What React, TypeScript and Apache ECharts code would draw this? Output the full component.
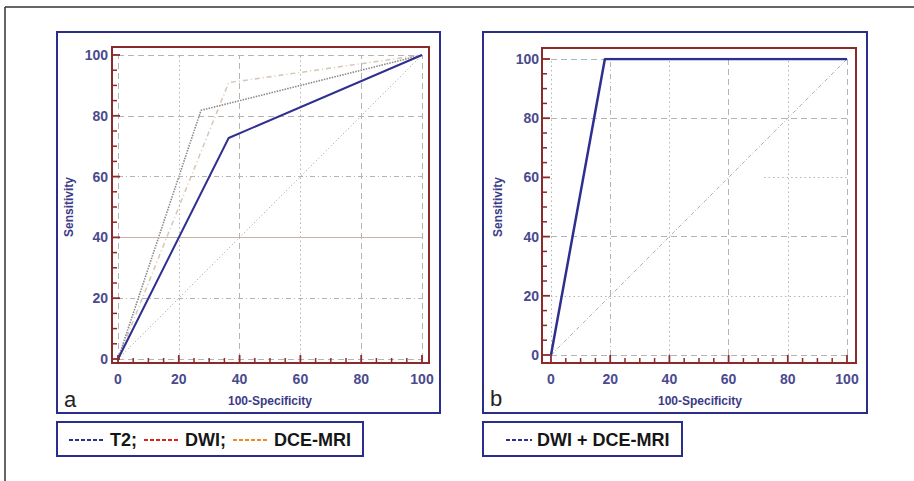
import React, { useEffect, useRef } from "react";
import * as echarts from "echarts";

// ---- data ----
const tickValues = [0, 20, 40, 60, 80, 100];
const minorValues = [5, 10, 15, 25, 30, 35, 45, 50, 55, 65, 70, 75, 85, 90, 95];
const diagX = [0, 100];
const diagY = [0, 100];
const t2X = [0, 36.4, 100];
const t2Y = [0, 72.7, 100];
const dwiX = [0, 27.3, 100];
const dwiY = [0, 81.8, 100];
const dceX = [0, 36.4, 100];
const dceY = [0, 90.9, 100];
const comboX = [0, 18.2, 100];
const comboY = [0, 100, 100];
const legendA = ["T2;", "DWI;", "DCE-MRI"];
const legendB = ["DWI + DCE-MRI"];
const panelLetters = ["a", "b"];
const xName = "100-Specificity";
const yName = "Sensitivity";

const pairs = (xs: number[], ys: number[]) => xs.map((x, i) => [x, ys[i]]);

const NAVY = "#2e2f8f";
const FRAME = "#8b2a2a";
const GRID = "#b4b4b4";
const FONT = "'Liberation Sans', Arial, sans-serif";
const DASH = [6, 4];
const DOT = [1.5, 3];
const DASHDOT = [5, 3, 1, 3];

// axis offsets (frame distance from the 0..100 data area)
const OFFSETS = [
  { x: 4, y: 6 },
  { x: 8, y: 9 },
];

export default function App() {
  const ref = useRef<HTMLDivElement>(null);
  useEffect(() => {
    if (!ref.current) return;
    const chart = echarts.init(ref.current, null, { renderer: "svg" });

    const axisCommon = (gridIndex: number, offset: number, margin: number) => ({
      type: "value",
      gridIndex,
      min: tickValues[0],
      max: tickValues[tickValues.length - 1],
      interval: 20,
      offset,
      axisLine: { show: false, onZero: false },
      axisTick: { show: false },
      minorTick: { show: false },
      splitLine: { show: false },
      axisLabel: { color: "#4a4a8e", fontSize: 14, fontWeight: "bold", fontFamily: FONT, margin },
    });

    const gl = (type: any, color = GRID, width = 1) => ({ lineStyle: { type, color, width } });

    const gridLinesA = [
      { xAxis: tickValues[0], ...gl(DASH) },
      { xAxis: tickValues[1], ...gl(DOT) },
      { xAxis: tickValues[2], ...gl(DASH) },
      { xAxis: tickValues[3], ...gl(DOT) },
      { xAxis: tickValues[4], ...gl(DASH) },
      { xAxis: tickValues[5], ...gl(DASH) },
      { yAxis: tickValues[0], ...gl(DASH) },
      { yAxis: tickValues[1], ...gl(DASHDOT) },
      { yAxis: tickValues[2], ...gl("solid", "#c9b3a8", 1.2) },
      { yAxis: tickValues[3], ...gl(DASHDOT) },
      { yAxis: tickValues[4], ...gl(DASH) },
      { yAxis: tickValues[5], ...gl(DASH) },
    ];
    const gridLinesB = [
      { xAxis: tickValues[0], ...gl(DOT) },
      { xAxis: tickValues[1], ...gl(DASHDOT) },
      { xAxis: tickValues[2], ...gl(DOT) },
      { xAxis: tickValues[3], ...gl(DASH) },
      { xAxis: tickValues[4], ...gl(DOT) },
      { xAxis: tickValues[5], ...gl(DASH) },
      { yAxis: tickValues[0], ...gl(DASH) },
      { yAxis: tickValues[1], ...gl(DOT) },
      { yAxis: tickValues[2], ...gl(DASH) },
      [{ coord: [72, tickValues[3]], ...gl(DOT) }, { coord: [100, tickValues[3]] }],
      { yAxis: tickValues[4], ...gl(DASH) },
      { yAxis: tickValues[5], ...gl(DASH) },
    ];

    const markLine = (data: any[]) => ({
      silent: true,
      symbol: ["none", "none"],
      label: { show: false },
      emphasis: { disabled: true },
      data,
    });

    const lineSeries = (
      idx: number,
      name: string,
      data: number[][],
      color: string,
      width: number,
      type: any,
      z: number,
      extra: any = {}
    ) => ({
      type: "line",
      name,
      xAxisIndex: idx,
      yAxisIndex: idx,
      data,
      showSymbol: false,
      symbol: "none",
      lineStyle: { color, width, type },
      z,
      silent: true,
      ...extra,
    });

    // tick marks along the frame (bottom and left), placed through the axes' scales
    const tickData: number[][] = [];
    tickValues.forEach((v) => {
      tickData.push([v, 0, 1]);
      tickData.push([v, 1, 1]);
    });
    minorValues.forEach((v) => {
      tickData.push([v, 0, 0]);
      tickData.push([v, 1, 0]);
    });
    const tickSeries = (idx: number) => ({
      type: "custom",
      name: "ticks" + idx,
      xAxisIndex: idx,
      yAxisIndex: idx,
      silent: true,
      clip: false,
      z: 11,
      data: tickData,
      encode: { x: 0 },
      renderItem: (params: any, api: any) => {
        const v = api.value(0);
        const isY = api.value(1) === 1;
        const major = api.value(2) === 1;
        const len = major ? 8 : 5;
        const cs = params.coordSys;
        const off = OFFSETS[idx];
        const style = { stroke: FRAME, lineWidth: major ? 1.8 : 1.5 };
        if (!isY) {
          const px = api.coord([v, 0])[0];
          const by = cs.y + cs.height + off.x;
          return { type: "line", shape: { x1: px, y1: by, x2: px, y2: by - len }, style };
        }
        const py = api.coord([0, v])[1];
        const lx = cs.x - off.y;
        return { type: "line", shape: { x1: lx, y1: py, x2: lx + len, y2: py }, style };
      },
    });

    const boxLine = (x1: number, x2: number, y: number, color: string) => ({
      type: "line",
      shape: { x1, y1: y, x2, y2: y },
      style: { stroke: color, lineWidth: 2, lineDash: [4, 2] },
    });
    const legendText = (x: number, y: number, text: string) => ({
      type: "text",
      x,
      y,
      style: { text, fill: "#161616", font: `bold 18px ${FONT}`, verticalAlign: "middle" },
    });

    chart.setOption({
      animation: false,
      backgroundColor: "#ffffff",
      grid: [
        { left: 118, top: 55, width: 304, height: 304 },
        { left: 551, top: 59, width: 296, height: 296 },
      ],
      xAxis: [
        { ...axisCommon(0, OFFSETS[0].x, 9), position: "bottom" },
        { ...axisCommon(1, OFFSETS[1].x, 9), position: "bottom" },
      ],
      yAxis: [
        { ...axisCommon(0, OFFSETS[0].y, 4), position: "left" },
        { ...axisCommon(1, OFFSETS[1].y, 3), position: "left" },
      ],
      series: [
        lineSeries(0, "diagA", pairs(diagX, diagY), "#9a9a9a", 1, [1, 2.5], 2, { markLine: markLine(gridLinesA) }),
        lineSeries(0, "DCE-MRI", pairs(dceX, dceY), "#d6c6b4", 1.5, DASHDOT, 3),
        lineSeries(0, "DWI", pairs(dwiX, dwiY), "#8a8a8a", 1.6, [1.5, 1.2], 4),
        lineSeries(0, "T2", pairs(t2X, t2Y), NAVY, 2, "solid", 5),
        lineSeries(1, "diagB", pairs(diagX, diagY), "#b0b0b0", 1, [4, 2, 1, 2], 2, { markLine: markLine(gridLinesB) }),
        lineSeries(1, "DWI + DCE-MRI", pairs(comboX, comboY), NAVY, 2.5, "solid", 5),
        tickSeries(0),
        tickSeries(1),
      ],
      graphic: [
        // outer frame
        { type: "line", shape: { x1: 5, y1: 7, x2: 914, y2: 7 }, style: { stroke: "#333", lineWidth: 1.5 } },
        { type: "line", shape: { x1: 5, y1: 7, x2: 5, y2: 481 }, style: { stroke: "#333", lineWidth: 1.5 } },
        // panel boxes
        { type: "rect", shape: { x: 57, y: 32, width: 383, height: 381 }, style: { fill: "none", stroke: "#2b2d8a", lineWidth: 2 } },
        { type: "rect", shape: { x: 483, y: 32, width: 384, height: 381 }, style: { fill: "none", stroke: "#2b2d8a", lineWidth: 2 } },
        // plot frames
        { type: "rect", shape: { x: 112, y: 47, width: 317, height: 316 }, style: { fill: "none", stroke: FRAME, lineWidth: 2 } },
        { type: "rect", shape: { x: 542, y: 48, width: 314, height: 315 }, style: { fill: "none", stroke: FRAME, lineWidth: 2 } },
        // panel letters
        { type: "text", x: 64, y: 399, style: { text: panelLetters[0], fill: "#222", font: `22px ${FONT}`, verticalAlign: "middle" } },
        { type: "text", x: 490, y: 398, style: { text: panelLetters[1], fill: "#222", font: `22px ${FONT}`, verticalAlign: "middle" } },
        // axis names
        { type: "text", x: 270, y: 401, style: { text: xName, fill: "#3b3b88", font: `bold 12px ${FONT}`, align: "center", verticalAlign: "middle" } },
        { type: "text", x: 700, y: 401, style: { text: xName, fill: "#3b3b88", font: `bold 12px ${FONT}`, align: "center", verticalAlign: "middle" } },
        { type: "text", x: 69, y: 207, rotation: Math.PI / 2, style: { text: yName, fill: "#3b3b88", font: `bold 12px ${FONT}`, align: "center", verticalAlign: "middle" } },
        { type: "text", x: 498, y: 207, rotation: Math.PI / 2, style: { text: yName, fill: "#3b3b88", font: `bold 12px ${FONT}`, align: "center", verticalAlign: "middle" } },
        // legend boxes
        { type: "rect", shape: { x: 57, y: 422, width: 306, height: 34 }, style: { fill: "none", stroke: "#2b2d8a", lineWidth: 2 } },
        { type: "rect", shape: { x: 483, y: 422, width: 199, height: 34 }, style: { fill: "none", stroke: "#2b2d8a", lineWidth: 2 } },
        boxLine(69, 105, 440, NAVY),
        legendText(110, 440, legendA[0]),
        boxLine(144, 179, 440, "#e0201c"),
        legendText(185, 440, legendA[1]),
        boxLine(233, 268, 440, "#f08a24"),
        legendText(274, 440, legendA[2]),
        boxLine(506, 532, 440, NAVY),
        legendText(537, 440, legendB[0]),
      ],
    });
    return () => chart.dispose();
  }, []);
  return <div ref={ref} style={{ position: "fixed", left: 0, top: 0, width: 914, height: 481 }} />;
}
